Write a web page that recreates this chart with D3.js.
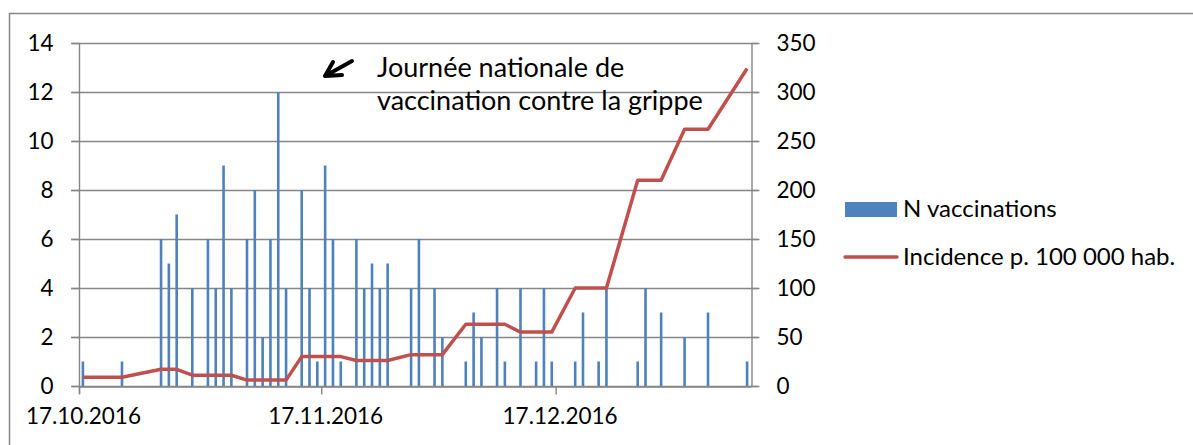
<!DOCTYPE html>
<html>
<head>
<meta charset="utf-8">
<script src="https://cdn.jsdelivr.net/npm/d3@7"></script>
<style>
  body { margin: 0; background: #fff; }
  text { font-family: Lato, "Open Sans", sans-serif; fill: #000; }
</style>
</head>
<body>
<div id="chart"></div>
<script>
// daily vaccinations (only days with at least one)
const vaccDates = ["17.10.2016", "22.10.2016", "27.10.2016", "28.10.2016", "29.10.2016", "31.10.2016",
    "02.11.2016", "03.11.2016", "04.11.2016", "05.11.2016", "07.11.2016", "08.11.2016", "09.11.2016",
    "10.11.2016", "11.11.2016", "12.11.2016", "14.11.2016", "15.11.2016", "16.11.2016", "17.11.2016",
    "18.11.2016", "19.11.2016", "21.11.2016", "22.11.2016", "23.11.2016", "24.11.2016", "25.11.2016",
    "28.11.2016", "29.11.2016", "01.12.2016", "02.12.2016", "05.12.2016", "06.12.2016", "07.12.2016",
    "09.12.2016", "10.12.2016", "12.12.2016", "14.12.2016", "15.12.2016", "16.12.2016", "19.12.2016",
    "20.12.2016", "22.12.2016", "23.12.2016", "27.12.2016", "28.12.2016", "30.12.2016", "02.01.2017",
    "05.01.2017", "10.01.2017"]
const vaccCounts = [1, 1, 6, 5, 7, 4,
    6, 4, 9, 4, 6, 8, 2,
    6, 12, 4, 8, 4, 1, 9,
    6, 1, 6, 4, 5, 4, 5,
    4, 6, 4, 2, 1, 3, 2,
    4, 1, 4, 1, 4, 1, 1,
    3, 1, 4, 1, 4, 3, 2,
    3, 1]

// weekly incidence per 100 000 inhabitants (week starting on monday)
const weekStarts = ["17.10.2016", "24.10.2016", "31.10.2016", "07.11.2016", "14.11.2016", "21.11.2016",
    "28.11.2016", "05.12.2016", "12.12.2016", "19.12.2016", "26.12.2016", "02.01.2017", "09.01.2017"]
const incidence = [9, 17, 11, 6, 30, 26, 32, 63, 55, 100, 210, 262, 324]

const dateTicks = ["17.10.2016", "17.11.2016", "17.12.2016"]
const leftTicks = [0, 2, 4, 6, 8, 10, 12, 14]
const rightTicks = [0, 50, 100, 150, 200, 250, 300, 350]
const seriesNames = ["N vaccinations", "Incidence p. 100 000 hab."]
const noteLines = ["Journée nationale de", "vaccination contre la grippe"]

const parse = d3.utcParse("%d.%m.%Y")
const fmt = d3.utcFormat("%d.%m.%Y")
const DAY = 864e5

const W = 1193, H = 445
const plot = {left: 79, right: 751, top: 43, bottom: 386}
const gridColor = "#868686"
const blue = "#4f81bd", red = "#c0504d"

const svg = d3.select("#chart").append("svg")
    .attr("width", W)
    .attr("height", H)
    .style("background", "#fff")

// chart frame (runs off the right and bottom edges)
svg.append("rect")
    .attr("x", 9.5).attr("y", 13.5)
    .attr("width", W + 20).attr("height", H + 20)
    .attr("fill", "none")
    .attr("stroke", gridColor)
    .attr("stroke-width", 1.5)

const x = d3.scaleUtc()
    .domain([parse("17.10.2016"), parse("11.01.2017")])
    .range([plot.left, plot.right])
const yL = d3.scaleLinear().domain([0, 14]).range([plot.bottom, plot.top])
const yR = d3.scaleLinear().domain([0, 350]).range([plot.bottom, plot.top])

// gridlines
svg.append("g").selectAll("line")
    .data(leftTicks)
    .join("line")
    .attr("x1", plot.left - 8).attr("x2", plot.right + 7)
    .attr("y1", d => yL(d) + 0.5).attr("y2", d => yL(d) + 0.5)
    .attr("stroke", gridColor)
    .attr("stroke-width", 1.4)

// axes
const axisL = svg.append("g")
    .attr("transform", `translate(${plot.left + 0.5},0)`)
    .call(d3.axisLeft(yL).tickValues(leftTicks).tickSize(8).tickSizeOuter(0).tickPadding(18))
const axisR = svg.append("g")
    .attr("transform", `translate(${plot.right + 0.5},0)`)
    .call(d3.axisRight(yR).tickValues(rightTicks).tickSize(8).tickSizeOuter(0).tickPadding(17))
const axisB = svg.append("g")
    .attr("transform", `translate(0,${plot.bottom + 0.5})`)
    .call(d3.axisBottom(x).tickValues(dateTicks.map(parse)).tickFormat(fmt).tickSize(8).tickSizeOuter(0))

const halfDay = x(parse("18.10.2016")) - x(parse("17.10.2016"))
axisB.selectAll(".tick text")
    .attr("x", halfDay / 2)
    .attr("y", 22)

;[axisL, axisR, axisB].forEach(a => {
    a.selectAll("path, line").attr("stroke", gridColor).attr("stroke-width", 1.4)
    a.selectAll("text").style("font-size", "22.5px").attr("fill", "#000")
})
axisL.select(".domain").attr("d", `M0,${plot.top}V${plot.bottom + 8}`)

// bars
const barData = vaccDates.map((d, i) => ({date: parse(d), n: vaccCounts[i]}))
const barW = 2.6
svg.append("g").selectAll("rect")
    .data(barData)
    .join("rect")
    .attr("x", d => x(new Date(+d.date + DAY / 2)) - barW / 2)
    .attr("y", d => yL(d.n))
    .attr("width", barW)
    .attr("height", d => yL(0) - yL(d.n))
    .attr("fill", blue)

// incidence line, plotted on the days with vaccinations
const weeks = weekStarts.map(parse)
const lineData = barData.map(d => {
    const w = d3.bisectRight(weeks, d.date) - 1
    return {date: d.date, v: incidence[w]}
})
const line = d3.line()
    .x(d => x(new Date(+d.date + DAY / 2)))
    .y(d => yR(d.v))
svg.append("path")
    .datum(lineData)
    .attr("d", line)
    .attr("fill", "none")
    .attr("stroke", red)
    .attr("stroke-width", 3.5)
    .attr("stroke-linejoin", "round")

// annotation
const note = svg.append("text")
    .attr("x", 377)
    .attr("y", 77)
    .style("font-size", "27px")
note.selectAll("tspan")
    .data(noteLines)
    .join("tspan")
    .attr("x", 377)
    .attr("dy", (d, i) => i == 0 ? 0 : 33)
    .text(d => d)

svg.append("path")
    .attr("d", "M352,61 L325,76 M325,76 L342,75 M325,76 L333,62")
    .attr("fill", "none")
    .attr("stroke", "#000")
    .attr("stroke-width", 4)
    .attr("stroke-linecap", "round")
    .attr("stroke-linejoin", "round")

// legend
const legend = svg.append("g").attr("transform", "translate(845,0)")
legend.append("rect")
    .attr("x", 0).attr("y", 202)
    .attr("width", 52).attr("height", 15)
    .attr("fill", blue)
legend.append("line")
    .attr("x1", 0).attr("x2", 52)
    .attr("y1", 257).attr("y2", 257)
    .attr("stroke", red)
    .attr("stroke-width", 3.5)
    .attr("stroke-linecap", "round")
legend.selectAll("text.leg")
    .data(seriesNames)
    .join("text")
    .attr("class", "leg")
    .attr("x", 58)
    .attr("y", (d, i) => 209 + i * 48)
    .attr("dy", "0.35em")
    .style("font-size", "24px")
    .text(d => d)
</script>
</body>
</html>
